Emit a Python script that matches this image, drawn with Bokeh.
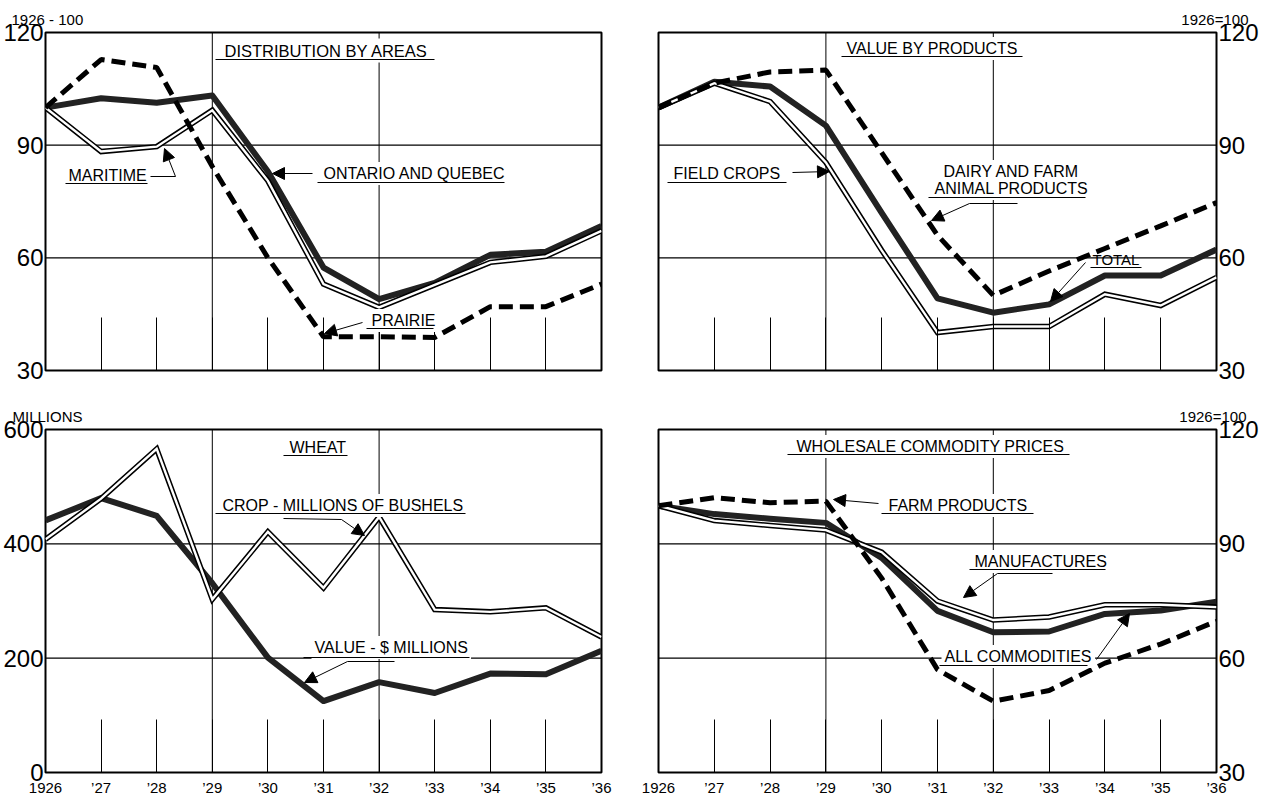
from bokeh.plotting import figure
from bokeh.layouts import column, row
from bokeh.models import Range1d, FixedTicker, LinearAxis, Label, Arrow, NormalHead, Span
from bokeh.embed import file_html
from bokeh.resources import INLINE

# ---------------- data ----------------
years = [1926, 1927, 1928, 1929, 1930, 1931, 1932, 1933, 1934, 1935, 1936]
year_labels = ["1926", "’27", "’28", "’29", "’30", "’31", "’32", "’33", "’34", "’35", "’36"]
index_ticks = [30, 60, 90, 120]
million_ticks = [0, 200, 400, 600]

# Distribution by areas (1926 = 100)
ontario_quebec = [100, 102.5, 101.3, 103.2, 83, 57.4, 49, 53.3, 60.8, 61.6, 68.5]
maritime = [100, 88.3, 89.6, 99.3, 80.5, 53, 46.8, 52.8, 58.8, 60.4, 67.2]
prairie = [100, 112.8, 110.7, 84.3, 60, 39, 39, 38.8, 47, 47, 53]

# Value by products (1926 = 100)
total = [100, 106.9, 105.6, 95.2, 72, 49.2, 45.4, 47.6, 55.3, 55.3, 62.2]
field_crops = [100, 106.5, 101.6, 85.4, 62, 40.1, 41.7, 41.7, 50.3, 47.3, 54.8]
dairy_animal = [100, 106.5, 109.5, 110, 88, 66, 50, 56.5, 62.5, 68.5, 74.7]

# Wheat (millions)
wheat_value = [441, 480, 449, 331, 201, 125, 158, 139, 173, 172, 213]
wheat_crop = [408, 479, 566, 303, 421, 323, 447, 285, 281, 288, 237]

# Wholesale commodity prices (1926 = 100)
all_commodities = [100, 97.8, 96.6, 95.5, 86.3, 72.4, 66.8, 67, 71.6, 72.5, 74.8]
manufactures = [100, 96.1, 94.8, 93.6, 87.8, 75, 70, 70.8, 74, 74, 73.4]
farm_products = [100, 102.1, 100.8, 101.2, 81, 57, 48.7, 51.5, 58.7, 63.7, 69.7]

# ---------------- styling ----------------
FONT = "Liberation Sans"
NUM_FONT = "Liberation Sans"
INK = "black"
ORIGIN_Y = 1  # page top of the layout as rendered


def make_panel(frame, fig, yr, yticks, side, show_years, corner=None):
    fl, ft, fw, fh = frame
    gl, gt, gw, gh = fig
    y0, y1 = yr
    p = figure(frame_width=fw, frame_height=fh,
               x_range=Range1d(1926, 1936), y_range=Range1d(y0, y1),
               min_border_left=fl - gl, min_border_top=ft - gt,
               min_border_right=gl + gw - (fl + fw), min_border_bottom=gt + gh - (ft + fh),
               toolbar_location=None, output_backend="svg",
               x_axis_location="below", y_axis_location=None)
    p.grid.visible = False
    p.outline_line_color = INK
    p.outline_line_width = 2
    p.background_fill_color = "white"
    p.border_fill_color = "white"

    if corner is not None:
        txt, align, off = corner
        p.title.text = txt
        p.title.align = align
        p.title.offset = off
        p.title.text_font = FONT
        p.title.text_font_size = "15px"
        p.title.text_font_style = "normal"
        p.title.text_color = INK
        p.title.standoff = 9

    xa = p.xaxis[0]
    if show_years:
        xa.ticker = FixedTicker(ticks=years)
        xa.major_tick_in = 53
        xa.major_tick_out = 0
        xa.major_tick_line_color = INK
        xa.major_tick_line_width = 1
        xa.major_label_overrides = {y: l for y, l in zip(years, year_labels)}
        xa.major_label_text_font = FONT
        xa.major_label_text_font_size = "15px"
        xa.major_label_text_color = INK
        xa.major_label_standoff = 6
        xa.minor_tick_in = 0
        xa.minor_tick_out = 0
    else:
        xa.ticker = FixedTicker(ticks=[], minor_ticks=years)
        xa.minor_tick_in = 53
        xa.minor_tick_out = 0
        xa.minor_tick_line_color = INK
        xa.minor_tick_line_width = 1
    xa.axis_line_color = None

    ya = LinearAxis(ticker=FixedTicker(ticks=yticks))
    ya.major_tick_in = 0
    ya.major_tick_out = 0
    ya.minor_tick_in = 0
    ya.minor_tick_out = 0
    ya.axis_line_color = None
    ya.major_label_standoff = 2
    ya.major_label_text_font = NUM_FONT
    ya.major_label_text_font_size = "24px"
    ya.major_label_text_color = INK
    p.add_layout(ya, side)

    # reference lines
    for loc in (1929, 1932):
        p.add_layout(Span(location=loc, dimension="height", line_color=INK,
                          line_width=1, level="underlay"))
    for loc in yticks[1:3]:
        p.add_layout(Span(location=loc, dimension="width", line_color=INK,
                          line_width=1.3, level="underlay"))

    def conv(px, py):
        return (1926 + (px - fl) / fw * 10.0, y1 - (py - ft) / fh * (y1 - y0))
    return p, conv


def thick(p, ys):
    p.line(years, ys, line_width=6, line_color="#222222", line_join="round")


def double(p, ys):
    p.line(years, ys, line_width=5.5, line_color=INK, line_join="miter")
    p.line(years, ys, line_width=2.4, line_color="white", line_join="miter")


def dashed(p, ys):
    p.line(years, ys, line_width=5, line_color=INK, line_dash="14 7", line_cap="butt")


def text(p, conv, s, left, cy, size="16px", bg=False):
    x, y = conv(left, cy)
    lab = Label(x=x, y=y, text=s, text_align="left", text_baseline="middle",
                text_font=FONT, text_font_size=size, text_color=INK)
    if bg:
        lab.background_fill_color = "white"
        lab.padding = 3
    p.add_layout(lab)


def rule(p, conv, a, b, width=1.2):
    xs, ys = conv(*a)
    xe, ye = conv(*b)
    p.add_layout(Arrow(start=None, end=None, x_start=xs, y_start=ys, x_end=xe, y_end=ye,
                       line_width=width, line_color=INK))


def arrow(p, conv, start, end):
    xs, ys = conv(*start)
    xe, ye = conv(*end)
    p.add_layout(Arrow(end=NormalHead(size=12, fill_color=INK, line_color=INK),
                       x_start=xs, y_start=ys, x_end=xe, y_end=ye,
                       line_width=1, line_color=INK))


# frames and figure boxes in page pixels (left, top, width, height)
O = ORIGIN_Y
# ---------------- top left: distribution by areas ----------------
tl, c = make_panel((47, 33, 556, 338), (8, O, 623, 399), (30, 120), index_ticks, "left", False,
                   corner=("1926 - 100", "left", -34))
thick(tl, ontario_quebec)
double(tl, maritime)
dashed(tl, prairie)
text(tl, c, "DISTRIBUTION BY AREAS", 223, 51, size="16.5px", bg=True)
rule(tl, c, (217, 60), (436, 60))
text(tl, c, "MARITIME", 70, 176)
rule(tl, c, (67, 184), (149, 184))
rule(tl, c, (152, 177), (177, 177), width=1)
arrow(tl, c, (177, 177), (166, 149))
text(tl, c, "ONTARIO AND QUEBEC", 322, 174, bg=True)
rule(tl, c, (319, 183), (506, 183))
arrow(tl, c, (314, 174), (274, 174))
text(tl, c, "PRAIRIE", 370, 321, bg=True)
rule(tl, c, (368, 329), (435, 329))
arrow(tl, c, (364, 323), (326, 334))

# ---------------- top right: value by products ----------------
tr, c = make_panel((660, 33, 558, 338), (631, O, 626, 399), (30, 120), index_ticks, "right", False,
                   corner=("1926=100", "right", -32))
thick(tr, total)
double(tr, field_crops)
dashed(tr, dairy_animal)
text(tr, c, "VALUE BY PRODUCTS", 845, 49, bg=True)
rule(tr, c, (843, 57), (1024, 57))
text(tr, c, "FIELD CROPS", 675, 174)
rule(tr, c, (669, 183), (788, 183))
arrow(tr, c, (794, 173), (831, 172))
text(tr, c, "DAIRY AND FARM", 942, 172, bg=True)
text(tr, c, "ANIMAL PRODUCTS", 933, 189, bg=True)
rule(tr, c, (930, 198), (1087, 198))
rule(tr, c, (1019, 204), (971, 204), width=1)
arrow(tr, c, (971, 204), (933, 221))
text(tr, c, "TOTAL", 1094, 260, size="15px")
rule(tr, c, (1092, 268), (1143, 268))
arrow(tr, c, (1087, 263), (1052, 302))

# ---------------- bottom left: wheat ----------------
bl, c = make_panel((47, 430, 556, 343), (8, O + 399, 623, 392), (0, 600), million_ticks, "left", True,
                   corner=("MILLIONS", "left", -33))
thick(bl, wheat_value)
double(bl, wheat_crop)
text(bl, c, "WHEAT", 291, 448)
rule(bl, c, (285, 456), (349, 456))
text(bl, c, "CROP - MILLIONS OF BUSHELS", 221, 506, bg=True)
rule(bl, c, (217, 514), (467, 514))
rule(bl, c, (285, 519), (343, 520), width=1)
arrow(bl, c, (343, 520), (366, 536))
text(bl, c, "VALUE - $ MILLIONS", 313, 648, bg=True)
rule(bl, c, (305, 658), (471, 658))
rule(bl, c, (396, 662), (349, 662), width=1)
arrow(bl, c, (349, 662), (306, 683))

# ---------------- bottom right: wholesale commodity prices ----------------
br, c = make_panel((660, 430, 558, 343), (631, O + 399, 626, 392), (30, 120), index_ticks, "right", True,
                   corner=("1926=100", "right", -30))
thick(br, all_commodities)
double(br, manufactures)
dashed(br, farm_products)
text(br, c, "WHOLESALE COMMODITY PRICES", 795, 447, bg=True)
rule(br, c, (789, 455), (1071, 455))
text(br, c, "FARM PRODUCTS", 887, 506, bg=True)
rule(br, c, (883, 514), (1035, 514))
arrow(br, c, (880, 504), (835, 500))
text(br, c, "MANUFACTURES", 973, 562, bg=True)
rule(br, c, (971, 570), (1107, 570))
rule(br, c, (1054, 574), (999, 574), width=1)
arrow(br, c, (999, 574), (965, 598))
text(br, c, "ALL COMMODITIES", 943, 657, bg=True)
rule(br, c, (941, 666), (1089, 666))
arrow(br, c, (1098, 660), (1131, 614))

layout = column(row(tl, tr, spacing=0), row(bl, br, spacing=0), spacing=0)
open("out.html", "w").write(file_html(layout, INLINE))
